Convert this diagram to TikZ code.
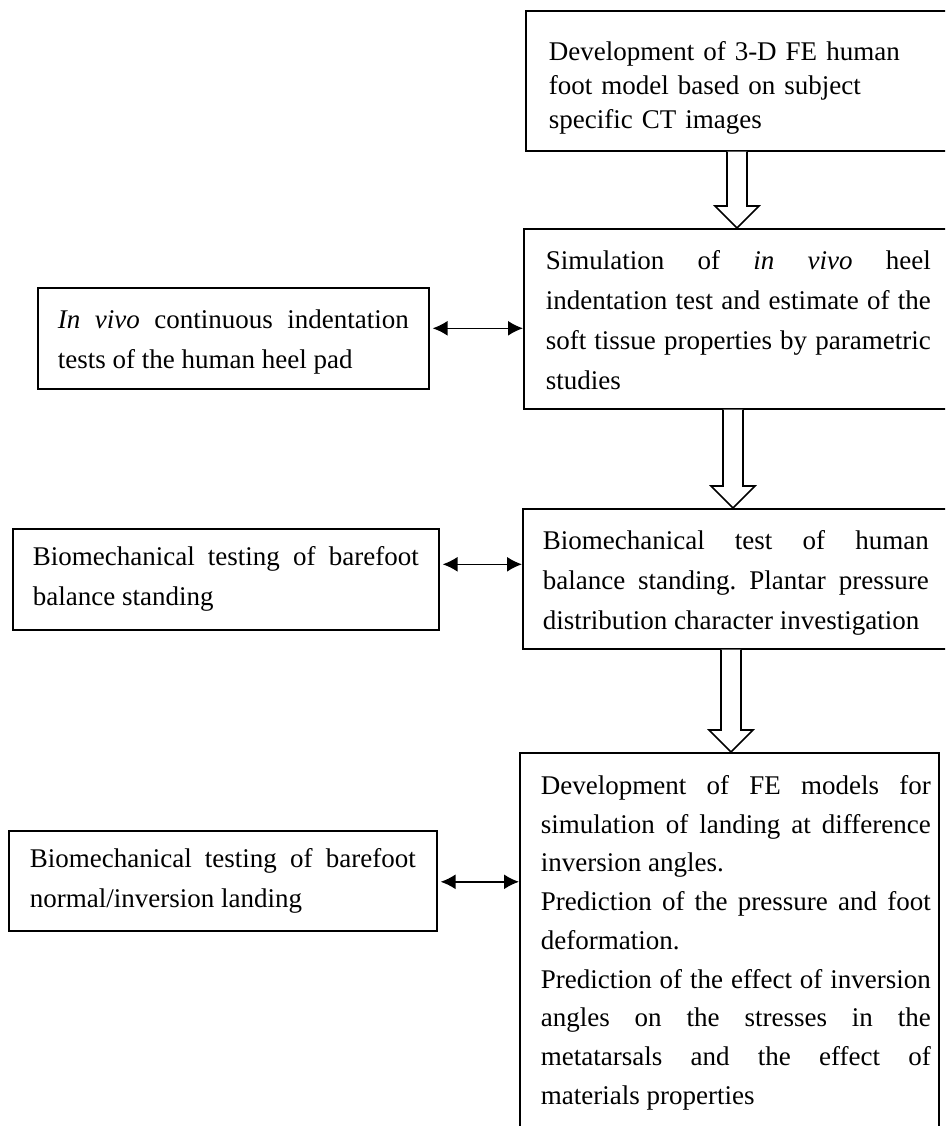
\documentclass[tikz,border=0pt]{standalone}
\usepackage{fontspec}
\setmainfont{Liberation Serif}
\usetikzlibrary{arrows.meta,calc}
\tikzset{
  box/.style={draw, line width=1.6pt, rectangle, anchor=north west,
    inner ysep=0pt, align=justify, font=\fontsize{27}{40}\selectfont},
  dbl/.style={{Latex[length=15pt,width=15pt]}-{Latex[length=15pt,width=15pt]}, line width=1.6pt},
  hollow/.style={draw, line width=1.6pt, fill=white, line join=miter},
}
\newcommand\hollowarrow[3]{%
  \draw[hollow] let \p1=(#2), \p2=(#3) in
    (#1pt-10pt,\y1) -- (#1pt-10pt,\y2+22pt) -- (#1pt-22pt,\y2+22pt) -- (#1pt,\y2)
    -- (#1pt+22pt,\y2+22pt) -- (#1pt+10pt,\y2+22pt) -- (#1pt+10pt,\y1);}
\frenchspacing
\begin{document}
\begin{tikzpicture}[x=1pt,y=-1pt]
\useasboundingbox (0,0) rectangle (945,1126);
\clip (0,0) rectangle (945,1126);
\fill[white] (0,0) rectangle (945,1126);

% right column
\node[box, align=left, text width=380, inner xsep=23, minimum height=140,
      font=\fontsize{27}{34}\selectfont] (B1) at (525,10)
  {\rule{0pt}{33pt}Development of 3-D FE human\\foot model based on subject\\specific CT images};
\node[box, text width=385, inner xsep=22, minimum height=180] (B2) at (523,228)
  {\rule{0pt}{22pt}Simulation of \textit{in vivo} heel\linebreak
   indentation test and estimate of the\linebreak
   soft tissue properties by parametric\linebreak
   studies};
\node[box, text width=386, inner xsep=20, minimum height=140] (B3) at (522,508)
  {\rule{0pt}{27pt}Biomechanical test of human\linebreak
   balance standing. Plantar pressure\linebreak
   distribution character investigation};
\node[box, text width=403, inner xsep=8, minimum height=380,
      font=\fontsize{27}{38.75}\selectfont] (B4) at (519,752)
  {\leftskip=13pt Development of FE models for\linebreak
   simulation of landing at difference\linebreak
   inversion angles.\par
   Prediction of the pressure and foot\linebreak
   deformation.\par
   Prediction of the effect of inversion\linebreak
   angles on the stresses in the\linebreak
   metatarsals and the effect of\linebreak
   materials properties\par};

% left column
\node[box, text width=351, inner xsep=20, minimum height=101] (L1) at (37,287)
  {\rule{0pt}{26pt}\textit{In vivo} continuous indentation\linebreak
   tests of the human heel pad};
\node[box, text width=386, inner xsep=20, minimum height=101] (L2) at (12,528)
  {Biomechanical testing of barefoot\linebreak
   balance standing};
\node[box, text width=386, inner xsep=21, minimum height=100] (L3) at (8,830)
  {Biomechanical testing of barefoot\linebreak
   normal/inversion landing};

% hollow arrows
\hollowarrow{737}{B1.south}{B2.north}
\hollowarrow{733}{B2.south}{B3.north}
\hollowarrow{731}{B3.south}{B4.north}

% double arrows
\coordinate (d1) at ($(L1.east)+(3,-10)$);
\draw[dbl] (d1) -- (d1 -| B2.west);
\coordinate (d2) at ($(L2.east)+(3,-15)$);
\draw[dbl] (d2) -- (d2 -| B3.west);
\coordinate (d3) at ($(L3.east)+(3,1)$);
\draw[dbl] (d3) -- (d3 -| B4.west);
\end{tikzpicture}
\end{document}
